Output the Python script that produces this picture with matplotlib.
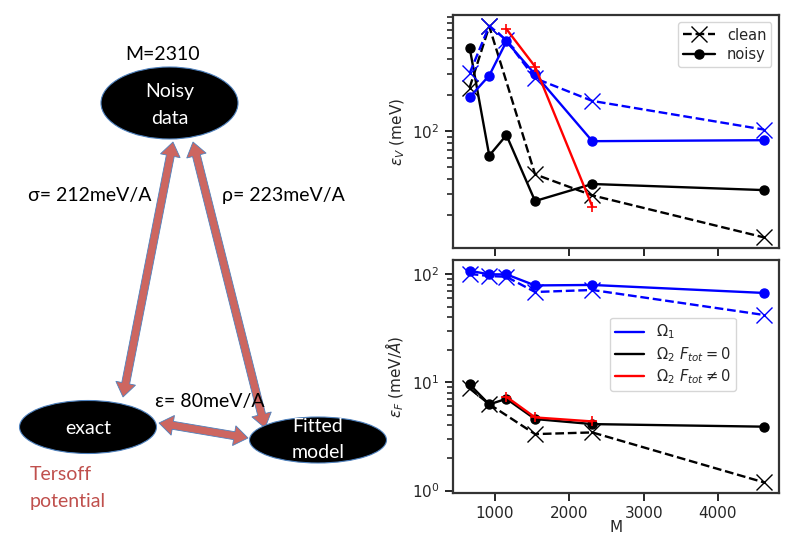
import numpy as np
import matplotlib
matplotlib.use('Agg')
import matplotlib.pyplot as plt
import seaborn as sns
from matplotlib.patches import Ellipse, Polygon
from matplotlib.lines import Line2D

# training set sizes
M = [660, 924, 1155, 1540, 2310, 4620]
M_clean_k = [660, 924, 1540, 2310, 4620]
M_red = [1155, 1540, 2310]

# energy errors (meV)
eV_clean_k = [231, 753, 43.5, 29.0, 12.9]
eV_noisy_k = [501, 62.4, 92.6, 26.0, 36.1, 32.1]
eV_clean_b = [305, 762, 575, 277, 179, 103]
eV_noisy_b = [192, 292, 563, 299, 82.4, 84.0]
eV_red = [715, 347, 23.4]

# force errors (meV/A)
eF_clean_k = [8.8, 6.3, 3.33, 3.45, 1.19]
eF_noisy_k = [9.6, 6.27, 7.06, 4.59, 4.12, 3.90]
eF_clean_b = [101, 96.5, 95, 68.7, 71.7, 42.1]
eF_noisy_b = [108, 100, 100, 79, 79.8, 67.3]
eF_red = [7.37, 4.75, 4.36]

sns.set_style('ticks')
plt.rcParams['font.family'] = ['DejaVu Sans']
plt.rcParams['axes.linewidth'] = 1.6
plt.rcParams['axes.edgecolor'] = '.2'
plt.rcParams['xtick.major.width'] = 1.4
plt.rcParams['ytick.major.width'] = 1.4
plt.rcParams['ytick.minor.width'] = 1.2
plt.rcParams['xtick.major.size'] = 6
plt.rcParams['ytick.major.size'] = 6
plt.rcParams['ytick.minor.size'] = 4

fig = plt.figure(figsize=(7.89, 5.34), dpi=100)

# ---- right hand panels ----
ax1 = fig.add_axes([0.574, 0.5356, 0.413, 0.436])
ax2 = fig.add_axes([0.574, 0.0768, 0.413, 0.436], sharex=ax1)

def draw(ax, ck, nk, cb, nb, red):
    ax.plot(M_clean_k, ck, 'k--', marker='x', ms=11, mew=1.0, lw=1.7)
    ax.plot(M, nk, 'k-', marker='o', ms=6.5, lw=1.7)
    ax.plot(M, cb, 'b--', marker='x', ms=11, mew=1.0, lw=1.7)
    ax.plot(M, nb, 'b-', marker='o', ms=6.5, lw=1.7)
    ax.plot(M_red, red, 'r-', marker='+', ms=7, mew=1.2, lw=1.7)
    ax.set_yscale('log')
    ax.tick_params(labelsize=11)

draw(ax1, eV_clean_k, eV_noisy_k, eV_clean_b, eV_noisy_b, eV_red)
draw(ax2, eF_clean_k, eF_noisy_k, eF_clean_b, eF_noisy_b, eF_red)

ax1.set_xlim(435, 4817)
ax1.tick_params(labelbottom=False)
ax1.set_ylabel(r'$\epsilon_V$ (meV)', fontsize=11)
ax2.set_ylabel(r'$\epsilon_F$ (meV/$\AA$)', fontsize=11)
ax2.set_xlabel('M', fontsize=11, labelpad=-1)
ax2.set_xticks([1000, 2000, 3000, 4000])

h1 = [Line2D([], [], color='k', ls='--', marker='x', ms=11, lw=1.7),
      Line2D([], [], color='k', ls='-', marker='o', ms=6.5, lw=1.7)]
ax1.legend(h1, ['clean', 'noisy'], loc='upper right', fontsize=10.5,
           labelspacing=0.3, borderpad=0.35, handlelength=2.2)

h2 = [Line2D([], [], color='b', lw=1.7),
      Line2D([], [], color='k', lw=1.7),
      Line2D([], [], color='r', lw=1.7)]
ax2.legend(h2, [r'$\Omega_1$', r'$\Omega_2\ F_{tot}=0$', r'$\Omega_2\ F_{tot}\neq 0$'],
           loc='upper left', bbox_to_anchor=(0.46, 0.785), fontsize=10.5,
           labelspacing=0.25, borderpad=0.35)

# ---- left hand diagram, drawn in pixel coordinates ----
ov = fig.add_axes([0, 0, 1, 1], zorder=-1)
ov.set_xlim(0, 789)
ov.set_ylim(534, 0)
ov.axis('off')

edge = '#4f81bd'
arrow_col = '#cd6660'

def arrow2(p0, p1, w=4.0, hw=10.0, hl=14.0):
    p0, p1 = np.array(p0, float), np.array(p1, float)
    u = (p1 - p0) / np.hypot(*(p1 - p0))
    n = np.array([-u[1], u[0]])
    a, b = p0 + hl * u, p1 - hl * u
    pts = [p0, a + hw * n, a + w * n, b + w * n, b + hw * n, p1,
           b - hw * n, b - w * n, a - w * n, a - hw * n]
    ov.add_patch(Polygon(pts, closed=True, fc=arrow_col, ec=edge, lw=0.6))

arrow2((123, 397), (173, 142))
arrow2((193, 142), (265, 428))
arrow2((159, 423), (248, 438))

for (cx, cy, w, h) in [(169.5, 103, 137, 72), (88, 427, 137, 53), (318, 440, 137, 46)]:
    ov.add_patch(Ellipse((cx, cy), w, h, fc='black', ec=edge, lw=0.8))

dfont = dict(family=['Lato', 'DejaVu Sans'], fontsize=14)
ov.text(163, 55, 'M=2310', ha='center', va='center', color='black', **dfont)
ov.text(170, 92, 'Noisy', ha='center', va='center', color='white', **dfont)
ov.text(170, 118, 'data', ha='center', va='center', color='white', **dfont)
ov.text(88, 428, 'exact', ha='center', va='center', color='white', **dfont)
ov.text(318, 427, 'Fitted', ha='center', va='center', color='white', **dfont)
ov.text(318, 453, 'model', ha='center', va='center', color='white', **dfont)
ov.text(28, 196, 'σ= 212meV/A', ha='left', va='center', color='black', **dfont)
ov.text(222, 196, 'ρ= 223meV/A', ha='left', va='center', color='black', **dfont)
ov.text(155, 402, 'ε= 80meV/A', ha='left', va='center', color='black', **dfont)
ov.text(30, 475, 'Tersoff', ha='left', va='center', color='#c0504d', **dfont)
ov.text(30, 502, 'potential', ha='left', va='center', color='#c0504d', **dfont)

fig.savefig('out.png', dpi=100)
